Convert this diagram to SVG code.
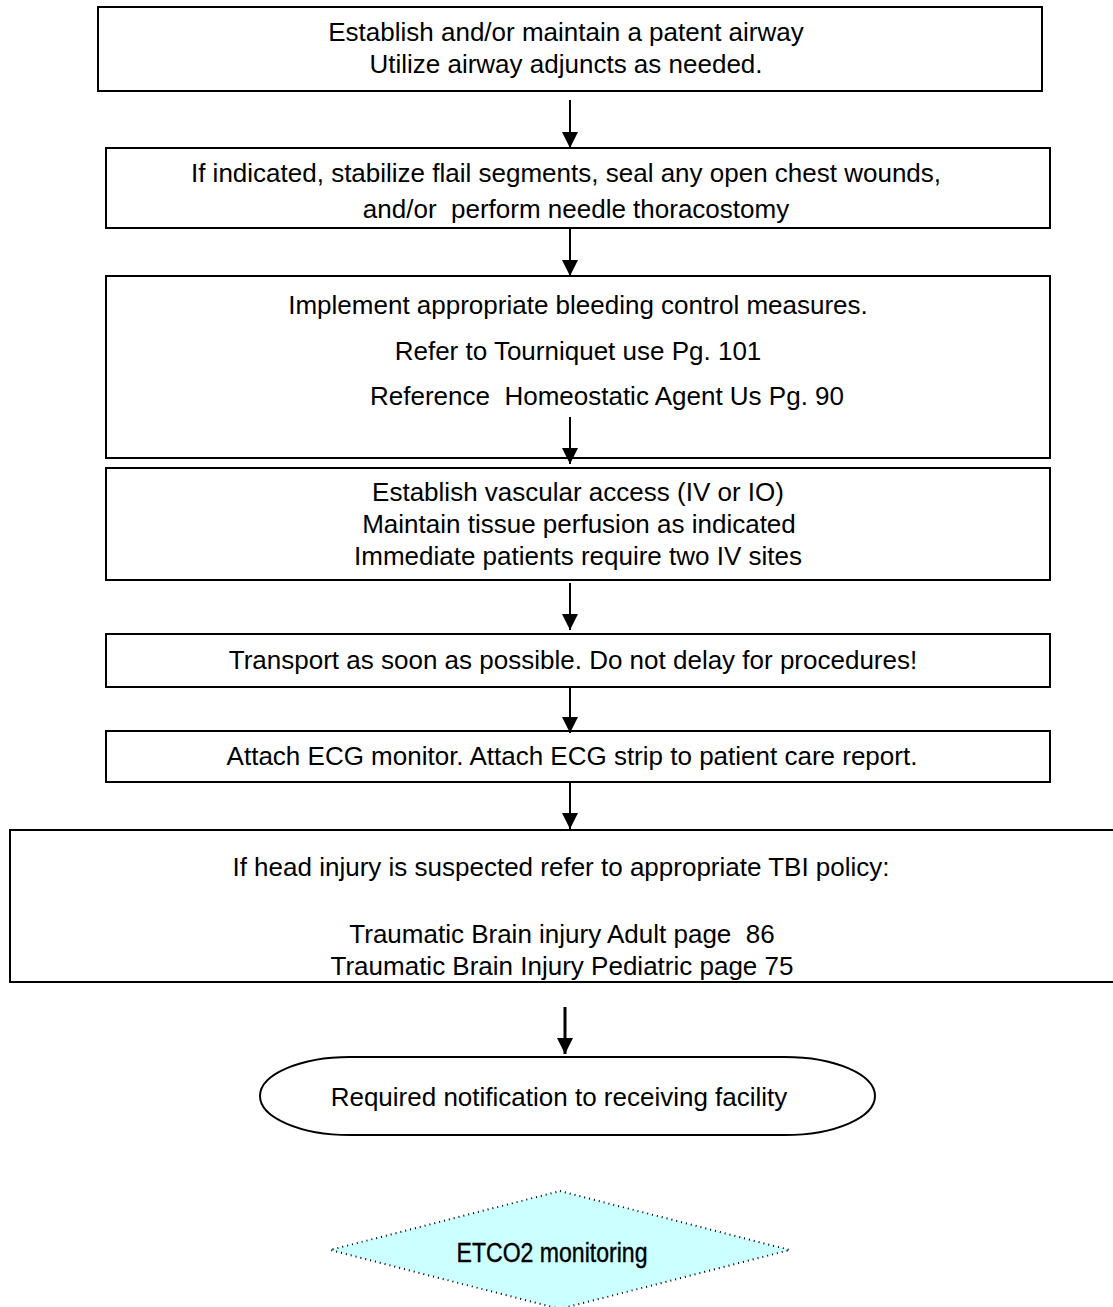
<svg xmlns="http://www.w3.org/2000/svg" width="1113" height="1307" viewBox="0 0 1113 1307">
<style>
.box{fill:#fff;stroke:#000;stroke-width:2}
.t{font-family:"Liberation Sans",Arial,sans-serif;font-size:26px;fill:#000;text-anchor:middle}
.c{stroke:#000;stroke-width:2;fill:none;marker-end:url(#ah)}
</style>
<defs>
<marker id="ah" markerWidth="16" markerHeight="16" refX="16" refY="8" orient="auto" markerUnits="userSpaceOnUse" viewBox="0 0 16 16">
<path d="M0,0 L16,8 L0,16 Z" fill="#000"/>
</marker>
</defs>
<rect width="1113" height="1307" fill="#fff"/>
<g id="n1"><rect class="box" x="98" y="7" width="944" height="84"/>
<text class="t" x="566" y="41">Establish and/or maintain a patent airway</text>
<text class="t" x="566" y="73">Utilize airway adjuncts as needed.</text></g>
<g id="n2"><rect class="box" x="106" y="148" width="944" height="80"/>
<text class="t" x="566" y="182">If indicated, stabilize flail segments, seal any open chest wounds,</text>
<text class="t" x="576" y="218" xml:space="preserve">and/or  perform needle thoracostomy</text></g>
<g id="n3"><rect class="box" x="106" y="276" width="944" height="182"/>
<text class="t" x="578" y="314">Implement appropriate bleeding control measures.</text>
<text class="t" x="578" y="360">Refer to Tourniquet use Pg. 101</text>
<text class="t" x="607" y="405" xml:space="preserve">Reference  Homeostatic Agent Us Pg. 90</text></g>
<g id="n4"><rect class="box" x="106" y="468" width="944" height="112"/>
<text class="t" x="578" y="501">Establish vascular access (IV or IO)</text>
<text class="t" x="579" y="533">Maintain tissue perfusion as indicated</text>
<text class="t" x="578" y="565">Immediate patients require two IV sites</text></g>
<g id="n5"><rect class="box" x="106" y="634" width="944" height="53"/>
<text class="t" x="573" y="669">Transport as soon as possible. Do not delay for procedures!</text></g>
<g id="n6"><rect class="box" x="106" y="731" width="944" height="51"/>
<text class="t" x="572" y="765">Attach ECG monitor. Attach ECG strip to patient care report.</text></g>
<g id="n7"><rect class="box" x="10" y="830" width="1112" height="152"/>
<text class="t" x="561" y="876">If head injury is suspected refer to appropriate TBI policy:</text>
<text class="t" x="562" y="943" xml:space="preserve">Traumatic Brain injury Adult page  86</text>
<text class="t" x="562" y="975">Traumatic Brain Injury Pediatric page 75</text></g>
<g id="n8"><rect class="box" x="260" y="1057" width="615" height="78" rx="90" ry="39"/>
<text class="t" x="559" y="1106">Required notification to receiving facility</text></g>
<g id="n9"><polygon points="560,1191 790,1250 560,1309 330,1250" fill="#ccffff" stroke="#000" stroke-width="2" stroke-dasharray="1 4"/>
<text x="552" y="1262" textLength="191" lengthAdjust="spacingAndGlyphs" style="font-family:'Liberation Sans',sans-serif;font-size:27px;text-anchor:middle;fill:#000;stroke:#000;stroke-width:0.4">ETCO2 monitoring</text></g>
<g id="connectors">
<line class="c" x1="570" y1="100" x2="570" y2="148"/>
<line class="c" x1="570" y1="229" x2="570" y2="276"/>
<line class="c" x1="570" y1="417" x2="570" y2="464"/>
<line class="c" x1="570" y1="583" x2="570" y2="630"/>
<line class="c" x1="570" y1="688" x2="570" y2="733"/>
<line class="c" x1="570" y1="783" x2="570" y2="829"/>
<line class="c" x1="565" y1="1007" x2="565" y2="1054" style="stroke-width:3"/>
</g>
</svg>
